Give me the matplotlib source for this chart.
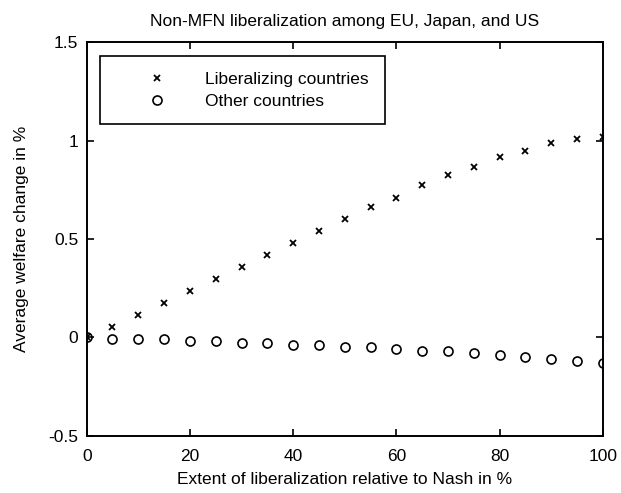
from matplotlib import pyplot as plt

extent = [0, 5, 10, 15, 20, 25, 30, 35, 40, 45, 50,
          55, 60, 65, 70, 75, 80, 85, 90, 95, 100]
liberalizing = [0.0, 0.05, 0.112, 0.174, 0.235, 0.295, 0.357, 0.418, 0.479, 0.54, 0.601,
                0.66, 0.71, 0.775, 0.826, 0.865, 0.917, 0.948, 0.988, 1.008, 1.02]
others = [0.0, -0.01, -0.01, -0.01, -0.02, -0.02, -0.03, -0.03, -0.04, -0.04, -0.05,
          -0.05, -0.06, -0.07, -0.07, -0.08, -0.09, -0.10, -0.11, -0.12, -0.13]

xticks = [0, 20, 40, 60, 80, 100]
yticks = [-0.5, 0, 0.5, 1, 1.5]
ytick_labels = ['-0.5', '0', '0.5', '1', '1.5']


def main():
    plt.rcParams['font.family'] = ['Liberation Sans', 'DejaVu Sans']
    plt.rcParams['font.size'] = 12.5

    fig = plt.figure(figsize=(6.21, 4.93), dpi=100)
    ax = fig.add_axes([0.1396, 0.1166, 0.831, 0.7976])

    ax.plot(extent, liberalizing, linestyle='none', marker='x', markersize=4,
            markeredgewidth=1.3, color='black', label='Liberalizing countries')
    ax.plot(extent, others, linestyle='none', marker='o', markersize=6.5,
            markeredgewidth=1.2, markerfacecolor='none', markeredgecolor='black',
            label='Other countries')

    ax.set_xlim(0, 100)
    ax.set_ylim(-0.5, 1.5)
    ax.set_xticks(xticks)
    ax.set_yticks(yticks)
    ax.set_yticklabels(ytick_labels)
    ax.tick_params(direction='in', top=True, right=True, length=5, width=1.2)
    ax.tick_params(axis='x', pad=9.5)
    ax.tick_params(axis='y', pad=6)
    for s in ax.spines.values():
        s.set_linewidth(1.4)

    ax.set_title('Non-MFN liberalization among EU, Japan, and US', fontsize=12.5, pad=12)
    ax.set_xlabel('Extent of liberalization relative to Nash in %', labelpad=6)
    ax.set_ylabel('Average welfare change in %', labelpad=14)

    leg = ax.legend(loc='upper left', bbox_to_anchor=(0.026, 0.965), fancybox=False,
                    edgecolor='black', framealpha=1, borderpad=0.89, handletextpad=0.41,
                    handlelength=4.77, labelspacing=0.4, borderaxespad=0)
    leg.get_frame().set_linewidth(1.2)

    fig.savefig('out.png', dpi=100)


if __name__ == '__main__':
    main()
